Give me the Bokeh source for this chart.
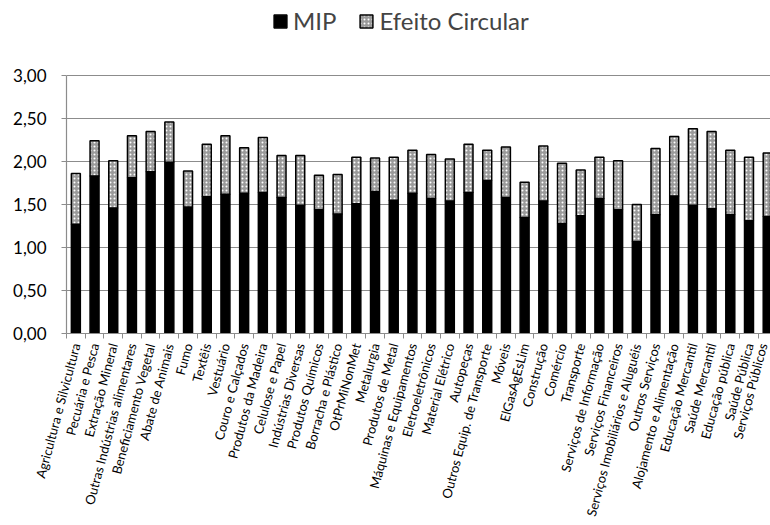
import numpy as np
from bokeh.plotting import figure
from bokeh.models import ColumnDataSource, Range1d, FixedTicker, Legend, LegendItem
from bokeh.embed import file_html
from bokeh.resources import INLINE

categories = [
    "Agricultura e Silvicultura", "Pecuária e Pesca", "Extração Mineral",
    "Outras Indústrias alimentares", "Beneficiamento Vegetal", "Abate de Animais",
    "Fumo", "Textêis", "Vestuário", "Couro e Calçados", "Produtos da Madeira",
    "Celulose e Papel", "Indústrias Diversas", "Produtos Químicos",
    "Borracha e Plástico", "OtPrMiNonMet", "Metalurgia", "Produtos de Metal",
    "Máquinas e Equipamentos", "Eletroeletrônicos", "Material Elétrico",
    "Autopeças", "Outros Equip. de Transporte", "Móveis", "ElGasAgEsLim",
    "Construção", "Comércio", "Transporte", "Serviços de Informação",
    "Serviços Financeiros", "Serviços Imobiliários e Aluguéis", "Outros Serviços",
    "Alojamento e Alimentação", "Educação Mercantil", "Saúde Mercantil",
    "Educação pública", "Saúde Pública", "Serviços Públicos",
]
mip = [1.27, 1.83, 1.46, 1.81, 1.88, 1.99, 1.47, 1.59, 1.62, 1.63, 1.64, 1.58,
       1.49, 1.44, 1.39, 1.51, 1.65, 1.55, 1.63, 1.57, 1.54, 1.64, 1.78, 1.58,
       1.35, 1.54, 1.28, 1.37, 1.57, 1.44, 1.07, 1.38, 1.60, 1.49, 1.45, 1.38,
       1.31, 1.36]
efeito_circular = [0.59, 0.41, 0.55, 0.49, 0.47, 0.47, 0.42, 0.61, 0.68, 0.53,
                   0.64, 0.49, 0.58, 0.40, 0.46, 0.54, 0.39, 0.50, 0.50, 0.51,
                   0.49, 0.56, 0.35, 0.59, 0.41, 0.64, 0.70, 0.53, 0.48, 0.57,
                   0.43, 0.77, 0.69, 0.89, 0.90, 0.75, 0.74, 0.74]
y_ticks = [0.0, 0.5, 1.0, 1.5, 2.0, 2.5, 3.0]
y_tick_labels = ["0,00", "0,50", "1,00", "1,50", "2,00", "2,50", "3,00"]
series_names = ["MIP", "Efeito Circular"]

n = len(categories)
xc = np.arange(n) + 0.5
mip_a = np.array(mip)
top_a = mip_a + np.array(efeito_circular)
src = ColumnDataSource(dict(x=xc, mip=mip_a, top=top_a))

FONT = "Lato"
GRID = "#8c8c8c"

# frame spans canvas y 5..333; value 3.0 sits at y=75 (86 px per unit)
p = figure(width=770, height=525, output_backend="svg", toolbar_location=None,
           x_range=Range1d(0, 37.65), y_range=Range1d(0, 328 / 86),
           min_border_left=66, min_border_right=0, min_border_top=5,
           min_border_bottom=192)
p.outline_line_color = None
p.background_fill_color = "white"
p.border_fill_color = "white"

r1 = p.vbar(x="x", bottom=0, top="mip", width=0.48, source=src,
            fill_color="black", line_color="black", line_width=1.5)
r2 = p.vbar(x="x", bottom="mip", top="top", width=0.48, source=src,
            fill_color="#9a9a9a", line_color="black", line_width=1.5,
            hatch_pattern="dot", hatch_color="white", hatch_scale=4,
            hatch_weight=1.2)

p.xgrid.grid_line_color = None
p.ygrid.grid_line_color = GRID
p.ygrid.grid_line_width = 1.2
p.ygrid.ticker = FixedTicker(ticks=y_ticks)

p.yaxis.ticker = FixedTicker(ticks=y_ticks)
p.yaxis.bounds = (0, 3.0)
p.yaxis.major_label_overrides = {t: l for t, l in zip(y_ticks, y_tick_labels)}
p.yaxis.axis_line_color = GRID
p.yaxis.axis_line_width = 1.2
p.yaxis.major_tick_line_color = GRID
p.yaxis.major_tick_out = 5
p.yaxis.major_tick_in = 0
p.yaxis.minor_tick_line_color = None
p.yaxis.major_label_text_font = FONT
p.yaxis.major_label_text_font_size = "17px"
p.yaxis.major_label_text_color = "black"
p.yaxis.major_label_standoff = 15

p.xaxis.ticker = FixedTicker(ticks=list(xc), minor_ticks=list(np.arange(n + 1)))
p.xaxis.major_label_overrides = {float(x): c for x, c in zip(xc, categories)}
p.xaxis.major_label_orientation = 1.31
p.xaxis.axis_line_color = GRID
p.xaxis.axis_line_width = 1.2
p.xaxis.major_tick_line_color = None
p.xaxis.minor_tick_line_color = GRID
p.xaxis.minor_tick_out = 5
p.xaxis.minor_tick_in = 0
p.xaxis.major_label_text_font = FONT
p.xaxis.major_label_text_font_size = "13px"
p.xaxis.major_label_text_color = "black"
p.xaxis.major_label_standoff = 4

legend = Legend(items=[LegendItem(label=series_names[0], renderers=[r1]),
                       LegendItem(label=series_names[1], renderers=[r2])],
                orientation="horizontal", location=(206, 298),
                label_text_font=FONT, label_text_font_size="24px",
                glyph_width=16, glyph_height=16, label_standoff=5,
                spacing=22, padding=0, margin=0,
                border_line_color=None, background_fill_alpha=0)
p.add_layout(legend, "center")

open("out.html", "w").write(file_html(p, INLINE))
